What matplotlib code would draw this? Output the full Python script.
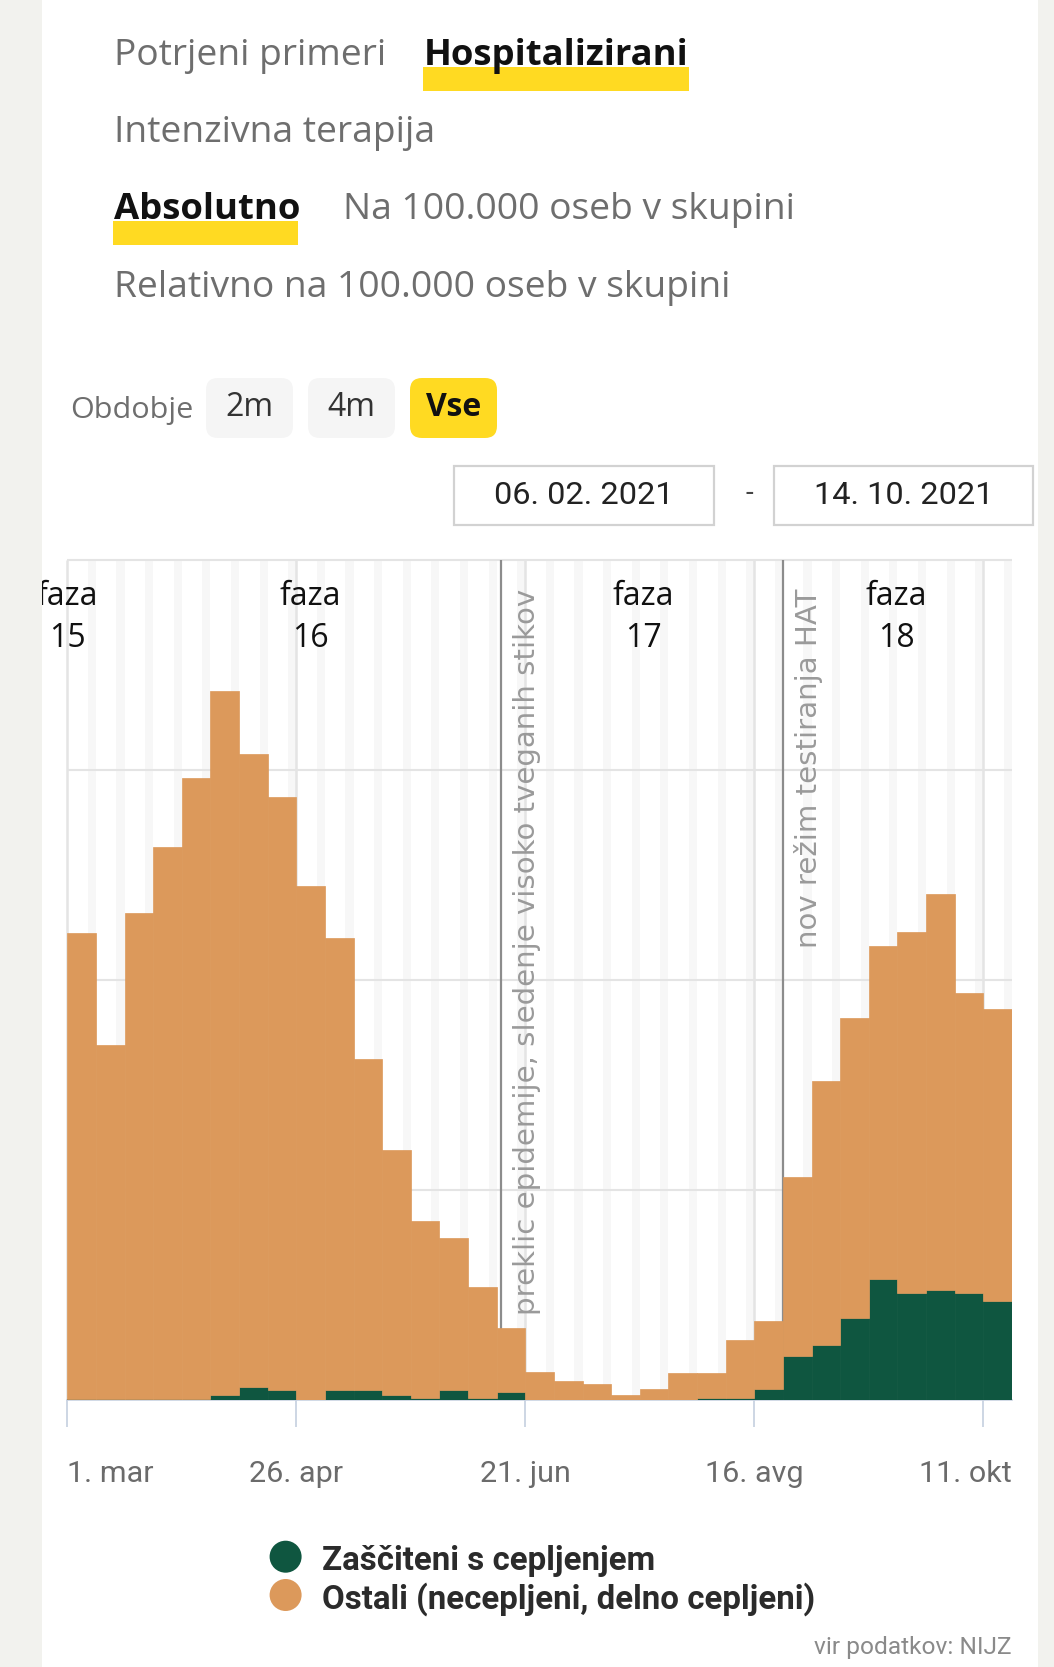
import matplotlib
matplotlib.use('Agg')
import matplotlib.pyplot as plt
import matplotlib.transforms as mtransforms
from matplotlib.patches import Rectangle, FancyBboxPatch, Ellipse
import pandas as pd
import numpy as np

W, H, DPI = 1054, 1667, 100

# ---------------- data ----------------
week_starts = pd.date_range('2021-03-01', periods=33, freq='7D')
total_hosp = np.array([222.5, 169, 231.7, 263.2, 296.2, 337.8, 307.8, 287, 244.9, 220.2,
                       162.5, 119, 85.2, 77.3, 54, 34.1, 13.1, 9.2, 7.6, 2.5,
                       5.1, 13.0, 13.0, 28.7, 37.8, 106, 152, 182, 216, 223,
                       241, 194, 186])
protected = np.array([0.7, 0.7, 0.7, 0.7, 0.7, 2.2, 6.2, 4.9, 0, 4.9,
                      4.9, 2.2, 0.8, 4.9, 0.8, 3.7, 0, 0, 0, 0,
                      0, 0, 1.0, 1.0, 5.2, 20.8, 26, 39.2, 57.7, 51,
                      52.3, 51, 47])
others = total_hosp - protected

series_names = ['Zaščiteni s cepljenjem', 'Ostali (necepljeni, delno cepljeni)']
series_colors = ['#0f5640', '#dc995b']

tick_dates = pd.to_datetime(['2021-03-01', '2021-04-26', '2021-06-21', '2021-08-16', '2021-10-11'])
tick_labels = ['1. mar', '26. apr', '21. jun', '16. avg', '11. okt']
y_grid = [100, 200, 300, 400]

event_dates = pd.to_datetime(['2021-06-15', '2021-08-23'])
event_labels = ['preklic epidemije, sledenje visoko tveganih stikov', 'nov režim testiranja HAT']

phase_numbers = ['15', '16', '17', '18']
phase_label_dates = pd.to_datetime(['2021-03-01 00:00', '2021-04-29 12:00', '2021-07-19 20:00',
                                    '2021-09-19 18:00'], format='%Y-%m-%d %H:%M')

menu_rows = [['Potrjeni primeri', 'Hospitalizirani'], ['Intenzivna terapija'],
             ['Absolutno', 'Na 100.000 oseb v skupini'], ['Relativno na 100.000 oseb v skupini']]
period_label = 'Obdobje'
period_options = ['2m', '4m', 'Vse']
date_from, date_to = '06. 02. 2021', '14. 10. 2021'
source_text = 'vir podatkov: NIJZ'

# ---------------- styling helpers ----------------
YELLOW = '#ffda22'
GRAY_TXT = '#6e6e6e'
fig = plt.figure(figsize=(W / DPI, H / DPI), dpi=DPI, facecolor='#f2f2ee')
ID = mtransforms.IdentityTransform()


def px(v):
    return v * 72.0 / DPI


def ftext(x, y, s, size, **kw):
    return fig.text(x / W, 1 - y / H, s, fontsize=px(size), **kw)


def frect(x0, y0, x1, y1, **kw):
    r = Rectangle((x0 / W, 1 - y1 / H), (x1 - x0) / W, (y1 - y0) / H,
                  transform=fig.transFigure, **kw)
    fig.add_artist(r)
    return r


def rbox(x0, y0, x1, y1, rad, **kw):
    b = FancyBboxPatch((x0, H - y1), x1 - x0, y1 - y0,
                       boxstyle='round,pad=0,rounding_size=%g' % rad, transform=ID, **kw)
    fig.add_artist(b)
    return b


# card background
frect(41.7, 0, 1038, H, facecolor='white', edgecolor='none', zorder=-10)

# ---------------- header menu ----------------
MENU_FONT = 'Open Sans'
REG, BOLD = 37.3, 36.5
frect(423, 67, 689, 91, facecolor=YELLOW, edgecolor='none', zorder=1)
frect(113, 221, 298, 245, facecolor=YELLOW, edgecolor='none', zorder=1)
ftext(114, 65.5, menu_rows[0][0], REG, family=MENU_FONT, color=GRAY_TXT, va='baseline', zorder=3)
ftext(424, 65.5, menu_rows[0][1], BOLD, family=MENU_FONT, weight='bold', color='#111111', va='baseline', zorder=3)
ftext(114, 142, menu_rows[1][0], REG, family=MENU_FONT, color=GRAY_TXT, va='baseline', zorder=3)
ftext(114, 219, menu_rows[2][0], BOLD, family=MENU_FONT, weight='bold', color='#111111', va='baseline', zorder=3)
ftext(343, 219, menu_rows[2][1], REG, family=MENU_FONT, color=GRAY_TXT, va='baseline', zorder=3)
ftext(114, 296.5, menu_rows[3][0], REG, family=MENU_FONT, color=GRAY_TXT, va='baseline', zorder=3)

# period selector
ftext(70, 418, period_label, 30.5, family=MENU_FONT, color=GRAY_TXT, va='baseline')
btn_boxes = [(206, 293), (308, 395), (410, 497)]
for (bx0, bx1), lab in zip(btn_boxes, period_options):
    active = lab == 'Vse'
    rbox(bx0, 378, bx1, 438, 12, facecolor=YELLOW if active else '#f5f5f5', edgecolor='none', zorder=1)
    ftext((bx0 + bx1) / 2, 415.5, lab, 32, family=MENU_FONT, ha='center', va='baseline',
          color='#111111' if active else '#333333', weight='bold' if active else 'normal', zorder=3)

# date range boxes
for (bx0, bx1), lab in zip([(454, 714), (773.5, 1033)], [date_from, date_to]):
    frect(bx0, 466, bx1, 525, facecolor='white', edgecolor='#d2d2d2', linewidth=1.6, zorder=1)
    ftext((bx0 + bx1) / 2, 504, lab, 32.5, family='Roboto', ha='center', va='baseline', color='#222222', zorder=3)
ftext(749, 493, '-', 28, family='Roboto', ha='center', va='center', color='#444444')

# ---------------- chart ----------------
ax = fig.add_axes([67.3 / W, 1 - 1400 / H, (1012 - 67.3) / W, 840 / H])
x_end = week_starts[-1] + pd.Timedelta(days=7)
ax.set_xlim(week_starts[0], x_end)
ax.set_ylim(0, 400)
ax.set_facecolor('white')
for sp in ax.spines.values():
    sp.set_visible(False)

# weekend stripes
for sat in pd.date_range(week_starts[0] - pd.Timedelta(days=2), x_end, freq='W-SAT'):
    ax.axvspan(sat, sat + pd.Timedelta(days=2), color='#f7f7f7', lw=0, zorder=0)

# grid
ax.vlines(tick_dates, 0, 400, color='#e4e4e4', lw=1.8, zorder=0.5, clip_on=False)
ax.hlines(y_grid, week_starts[0], x_end, color='#e4e4e4', lw=1.5, zorder=0.6, clip_on=False)

# event lines
for d in event_dates:
    ax.vlines(d, 0, 400, color='#8c8c8c', lw=1.6, zorder=1, clip_on=False)

# stacked weekly bars
ax.bar(week_starts, protected, width=7, align='edge', color=series_colors[0],
       edgecolor=series_colors[0], lw=0.5, zorder=2)
ax.bar(week_starts, others, bottom=protected, width=7, align='edge', color=series_colors[1],
       edgecolor=series_colors[1], lw=0.5, zorder=2)

# baseline
ax.axhline(0, color='#c9d3e2', lw=1.2, zorder=1.5, clip_on=False)

# ticks
ax.set_xticks(tick_dates)
ax.set_xticklabels([])
ax.set_yticks([])
ax.tick_params(axis='x', length=px(27), width=1.3, color='#c9d3e2')

bl = mtransforms.blended_transform_factory(ax.transData, ax.transAxes)
for i, (d, lab) in enumerate(zip(tick_dates, tick_labels)):
    if i == 0:
        xx, ha = d, 'left'
    elif i == len(tick_labels) - 1:
        xx, ha = x_end, 'right'
    else:
        xx, ha = d, 'center'
    ax.text(xx, (1400 - 1482) / 840, lab, transform=bl, ha=ha, va='baseline',
            fontsize=px(30.5), family='Roboto', color='#6b6b6b', clip_on=False)

# event labels (rotated)
off = mtransforms.ScaledTranslation(26 / DPI, 0, fig.dpi_scale_trans)
for d, lab in zip(event_dates, event_labels):
    ax.text(d, (1400 - 589) / 840, lab, transform=bl + off, rotation=90, ha='center', va='top',
            fontsize=px(29.2), family='DejaVu Sans', color='#9a9a9a', zorder=3, clip_on=False)

# phase labels
for d, num in zip(phase_label_dates, phase_numbers):
    ax.text(d, (1400 - 605) / 840, 'faza', transform=bl, ha='center', va='baseline',
            fontsize=px(32), family='Open Sans', color='#111111', zorder=3, clip_on=False)
    ax.text(d, (1400 - 647) / 840, num, transform=bl, ha='center', va='baseline',
            fontsize=px(32), family='Open Sans', color='#111111', zorder=3, clip_on=False)

# ---------------- legend ----------------
for (cy, by), name, col in zip([(1556.7, 1570), (1595, 1609)], series_names, series_colors):
    fig.add_artist(Ellipse((285.6, H - cy), 32, 32, transform=ID, facecolor=col, edgecolor='none'))
    ftext(321.5, by, name, 33, family='Roboto', weight='bold', color='#2b2b2b', va='baseline')

ftext(1011.5, 1654, source_text, 24.5, family='Roboto', color='#8a8a8a', ha='right', va='baseline')

# left / right page margins (clip overflowing label)
frect(0, 0, 41.7, H, facecolor='#f2f2ee', edgecolor='none', zorder=10)
frect(1038, 0, W, H, facecolor='#f2f2ee', edgecolor='none', zorder=10)

fig.savefig('out.png', dpi=DPI, facecolor=fig.get_facecolor())
